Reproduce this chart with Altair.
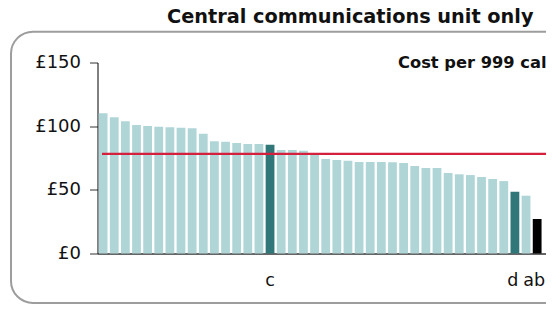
import altair as alt
import pandas as pd

# ---- data ----
values = [110.1, 107.0, 103.8, 100.9, 100.1, 99.6, 99.1, 98.8, 98.3, 94.1,
          88.1, 87.8, 86.8, 86.0, 86.0, 85.4, 81.3, 81.3, 80.7, 77.8,
          74.2, 73.4, 72.9, 71.9, 71.9, 71.9, 71.6, 71.1, 68.7, 67.1,
          67.1, 63.2, 62.2, 61.6, 60.1, 58.5, 56.9, 48.5, 45.4, 27.1]
names = [f"{i:02d}" for i in range(1, 41)]
groups = ["other"] * 40
groups[15] = "focus"
groups[37] = "focus"
groups[39] = "ab"
tick_names = {"16": "c", "38": "d", "40": "ab"}
average = [78.2]
y_ticks = [0, 50, 100, 150]
title_text = "Central communications unit only"
subtitle_text = "Cost per 999 calls"

FONT = "DejaVu Sans"

df = pd.DataFrame({"name": names, "value": values, "group": groups})
avg_df = pd.DataFrame({"avg": average})
one = pd.DataFrame({"k": [0]})

label_expr = " : ".join(f"datum.label == '{k}' ? '{v}'" for k, v in tick_names.items()) + " : ''"

x_enc = alt.X(
    "name:N", sort=None, title=None,
    scale=alt.Scale(paddingInner=0.21, paddingOuter=0.254, align=0.214),
    axis=alt.Axis(labelExpr=label_expr, labelAngle=0, ticks=False, tickSize=0,
                  labelPadding=31.5, labelBaseline="alphabetic", labelFont=FONT,
                  labelFontSize=17.5, labelColor="#111111", domainColor="#666666",
                  domainWidth=2, grid=False, labelOverlap=False,
                  labelOffset={"condition": [
                      {"test": "datum.value === '40'", "value": -3},
                      {"test": "datum.value === '38'", "value": -2}],
                      "value": 0}),
)
y_enc = alt.Y(
    "value:Q", title=None,
    scale=alt.Scale(domain=[0, 150], nice=False),
    axis=alt.Axis(values=y_ticks, labelExpr="'£' + datum.value", grid=False,
                  domainColor="#000000", domainWidth=1, tickColor="#333333",
                  tickSize=8, labelPadding=9, labelFont=FONT, labelFontSize=18,
                  labelColor="#111111"),
)

frame = alt.Chart(one).mark_rect(
    cornerRadius=22, fill="white", fillOpacity=0, stroke="#9d9d9d", strokeWidth=2
).encode(x=alt.value(-86.5), x2=alt.value(472), y=alt.value(-30.8), y2=alt.value(240.5))

bars = alt.Chart(df).mark_bar().encode(
    x=x_enc, y=y_enc,
    color=alt.Color("group:N", legend=None,
                    scale=alt.Scale(domain=["other", "focus", "ab"],
                                    range=["#b0d5d7", "#2f7778", "#000000"])),
)

rule = alt.Chart(avg_df).mark_rule(color="#d41f3d", strokeWidth=2.3).encode(
    y=alt.Y("avg:Q", title=None), x=alt.value(4.5), x2=alt.value(451.8)
)

title = alt.Chart(one).mark_text(
    align="left", baseline="alphabetic", font=FONT, fontSize=19.3,
    fontWeight="bold", color="#111111"
).encode(x=alt.value(69.5), y=alt.value(-39.5), text=alt.value(title_text))

subtitle = alt.Chart(one).mark_text(
    align="left", baseline="alphabetic", font=FONT, fontSize=16.3,
    fontWeight="bold", color="#111111"
).encode(x=alt.value(300.5), y=alt.value(5.8), text=alt.value(subtitle_text))

chart = alt.layer(frame, bars, rule, title, subtitle).properties(
    width=448.5, height=191,
    autosize=alt.AutoSizeParams(type="none"),
    padding={"left": 89.5, "top": 54.5, "right": 0, "bottom": 54.5},
    background="white",
).configure_view(stroke=None)

chart.save("out.html", embed_options={"renderer": "svg", "actions": False})
